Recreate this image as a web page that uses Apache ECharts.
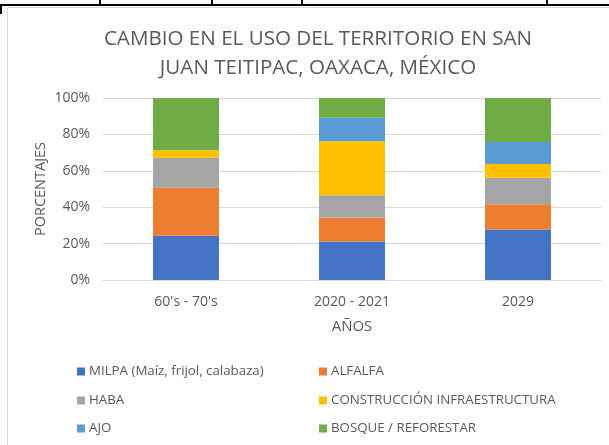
<!DOCTYPE html>
<html><head><meta charset="utf-8">
<script src="https://cdn.jsdelivr.net/npm/echarts@6/dist/echarts.min.js"></script>
<style>html,body{margin:0;padding:0;background:#fff}#c{width:609px;height:445px}</style>
</head><body><div id="c"></div>
<script>
const categories = ["60's - 70's", "2020 - 2021", "2029"];
const seriesNames = ["MILPA (Maíz, frijol, calabaza)", "ALFALFA", "HABA", "CONSTRUCCIÓN INFRAESTRUCTURA", "AJO", "BOSQUE / REFORESTAR"];
const milpa = [24.3, 21.1, 27.8];
const alfalfa = [26.4, 13.1, 13.8];
const haba = [16.5, 12.3, 14.6];
const construccion = [4.1, 29.7, 7.5];
const ajo = [0, 13.0, 12.1];
const bosque = [28.7, 10.8, 24.2];
const yTicks = [0, 20, 40, 60, 80, 100];

const colors = ['#4472C4', '#ED7D31', '#A5A5A5', '#FFC000', '#5B9BD5', '#70AD47'];
const values = [milpa, alfalfa, haba, construccion, ajo, bosque];
const FONT = "'Open Sans', sans-serif";
const TXT = '#595959';

const legendPos = [[72, 360], [314, 360], [72, 389], [314, 389], [72, 417], [314, 417]];
const legends = seriesNames.map((n, i) => ({
  data: [n], left: legendPos[i][0], top: legendPos[i][1],
  itemWidth: 8, itemHeight: 8, itemGap: 0, icon: 'rect',
  textStyle: { color: TXT, fontSize: 13.3, fontFamily: FONT, padding: [0, 0, 0, -1] }
}));

const chart = echarts.init(document.getElementById('c'), null, { renderer: 'canvas' });
chart.setOption({
  animation: false,
  color: colors,
  title: {
    text: 'CAMBIO EN EL USO DEL TERRITORIO EN SAN\nJUAN TEITIPAC, OAXACA, MÉXICO',
    left: 313, top: 20, textAlign: 'center',
    textStyle: { color: TXT, fontSize: 20.6, fontWeight: 'normal', fontFamily: FONT, lineHeight: 29 }
  },
  legend: legends,
  grid: { left: 103, right: 8, top: 98, bottom: 165 },
  xAxis: {
    type: 'category', data: categories,
    axisLine: { lineStyle: { color: '#d9d9d9' } },
    axisTick: { show: false },
    axisLabel: { color: TXT, fontSize: 14, fontFamily: FONT, margin: 15 },
    name: 'AÑOS', nameLocation: 'middle', nameGap: 39,
    nameTextStyle: { color: TXT, fontSize: 15, fontFamily: FONT }
  },
  yAxis: {
    type: 'value', min: yTicks[0], max: yTicks[yTicks.length - 1], interval: 20,
    axisLine: { show: false }, axisTick: { show: false },
    splitLine: { lineStyle: { color: '#d9d9d9' } },
    axisLabel: { color: TXT, fontSize: 14, fontFamily: FONT, margin: 13, formatter: '{value}%' },
    name: 'PORCENTAJES', nameLocation: 'middle', nameGap: 55, nameRotate: 90,
    nameMoveOverlap: false,
    nameTextStyle: { color: TXT, fontSize: 14.5, fontFamily: FONT }
  },
  series: seriesNames.map((n, i) => ({
    name: n, type: 'bar', stack: 'total', data: values[i],
    barWidth: 66
  })),
  graphic: [
    { type: 'rect', shape: { x: 7.5, y: 7.5, width: 700, height: 500 }, style: { fill: 'none', stroke: '#d9d9d9', lineWidth: 1 }, z: -1 },
    { type: 'line', shape: { x1: 0, y1: 5, x2: 609, y2: 5 }, style: { stroke: '#000', lineWidth: 2 } },
    { type: 'line', shape: { x1: 100, y1: 0, x2: 100, y2: 5 }, style: { stroke: '#000', lineWidth: 2 } },
    { type: 'line', shape: { x1: 212, y1: 0, x2: 212, y2: 5 }, style: { stroke: '#000', lineWidth: 2 } },
    { type: 'line', shape: { x1: 302, y1: 0, x2: 302, y2: 5 }, style: { stroke: '#000', lineWidth: 2 } },
    { type: 'line', shape: { x1: 547, y1: 0, x2: 547, y2: 5 }, style: { stroke: '#000', lineWidth: 2 } },
    { type: 'line', shape: { x1: 1, y1: 4, x2: 1, y2: 14 }, style: { stroke: '#000', lineWidth: 2 } }
  ]
});
</script></body></html>
